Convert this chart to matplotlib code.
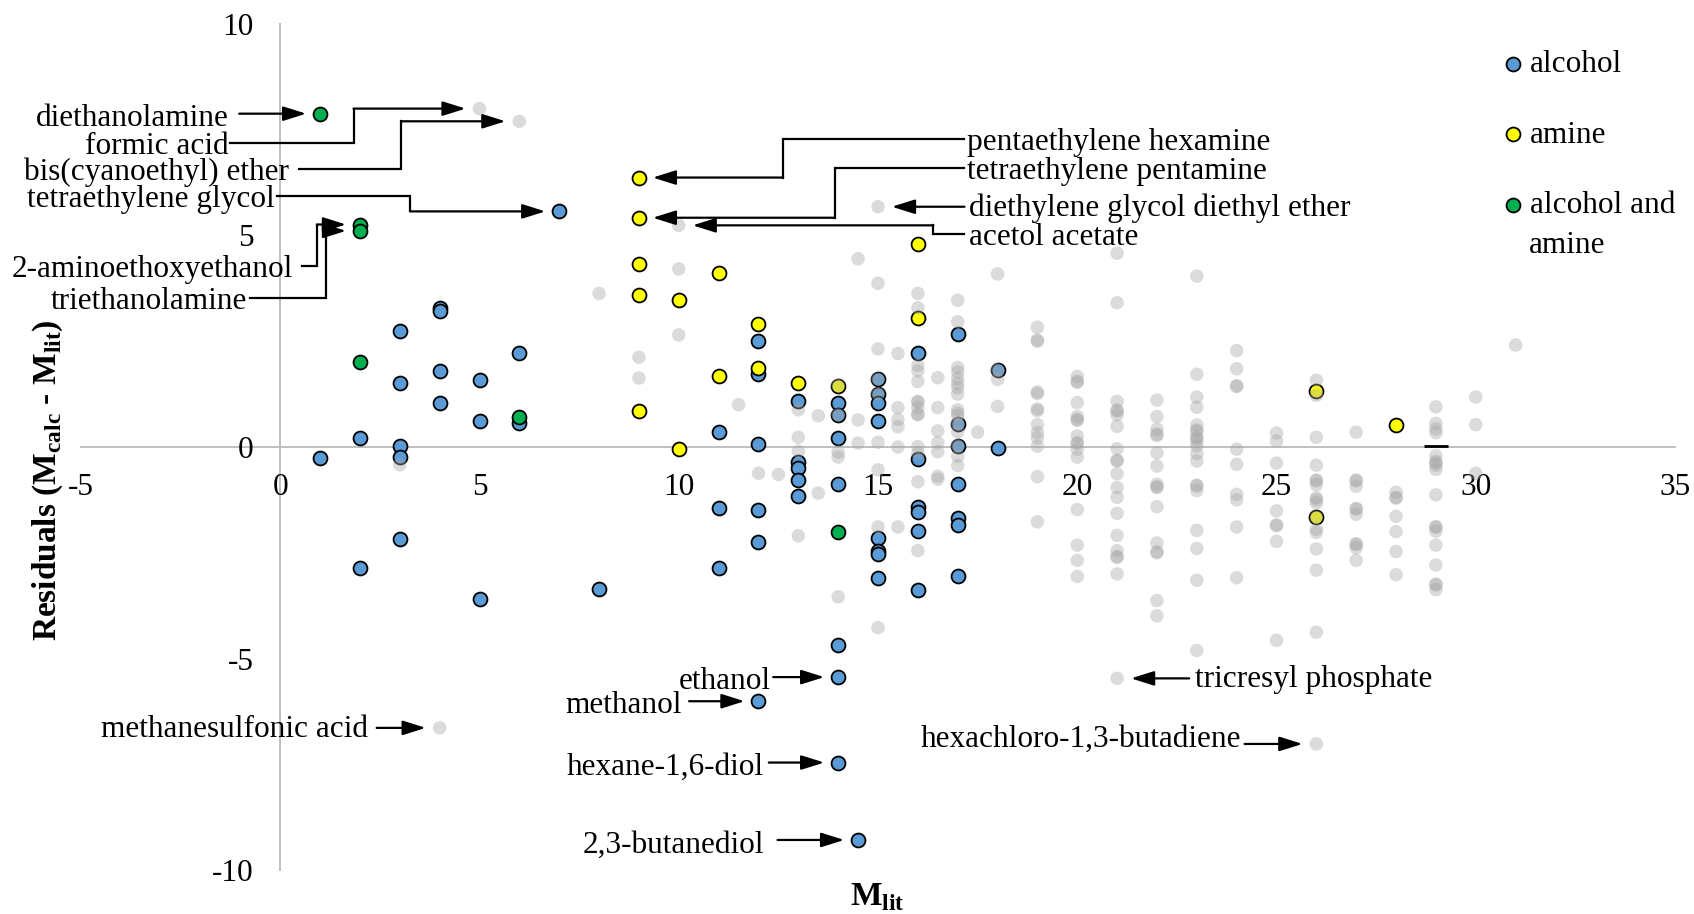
import matplotlib
matplotlib.use('Agg')
import matplotlib.pyplot as plt

plt.rcParams['font.family'] = ['Liberation Serif', 'DejaVu Serif']
plt.rcParams['mathtext.fontset'] = 'custom'
plt.rcParams['mathtext.rm'] = 'Liberation Serif'
plt.rcParams['mathtext.bf'] = 'Liberation Serif:bold'
plt.rcParams['axes.unicode_minus'] = False

# --- dados (M_lit, residuo) ---
alcohol_x = [1,
             2, 2,
             3, 3, 3, 3, 3,
             4, 4, 4, 4,
             5, 5, 5,
             6, 6,
             7,
             8,
             11, 11, 11,
             12, 12, 12, 12, 12, 12,
             13, 13, 13, 13, 13,
             14, 14, 14, 14, 14, 14, 14,
             14.5,
             15, 15, 15, 15, 15, 15, 15, 15,
             16, 16, 16, 16, 16, 16,
             17, 17, 17, 17, 17, 17, 17,
             18, 18]
alcohol_y = [-0.26,
             0.22, -2.87,
             2.75, 1.52, 0.03, -0.24, -2.17,
             3.28, 3.22, 1.80, 1.04,
             1.59, 0.62, -3.59,
             2.22, 0.56,
             5.57,
             -3.36,
             0.36, -1.44, -2.86,
             2.51, 1.72, 0.08, -1.49, -2.25, -6.01,
             1.09, -0.35, -0.50, -0.77, -1.15,
             1.04, 0.76, 0.22, -0.87, -4.67, -5.44, -7.46,
             -9.29,
             1.60, 1.26, 1.05, 0.61, -2.15, -2.47, -2.52, -3.10,
             2.22, -0.28, -1.41, -1.54, -1.98, -3.38,
             2.68, 0.55, 0.03, -0.87, -1.68, -1.85, -3.05,
             1.82, -0.02]

amine_x = [9, 9, 9, 9, 9, 10, 10, 11, 11, 12, 12, 13, 14, 16, 16, 26, 26, 28]
amine_y = [6.37, 5.42, 4.33, 3.59, 0.86, 3.48, -0.05, 4.12, 1.67, 2.90, 1.87,
           1.52, 1.45, 4.79, 3.04, 1.33, -1.66, 0.53]

alc_amine_x = [1, 2, 2, 2, 6, 14]
alc_amine_y = [7.88, 5.26, 5.11, 2.02, 0.71, -2.02]

other_x = [3, 4, 5, 6, 8,
           9, 9,
           10, 10, 10,
           11.5, 12, 12.5,
           13, 13, 13, 13,
           13.5, 13.5,
           14, 14, 14, 14, 14,
           14.5, 14.5, 14.5,
           15, 15, 15, 15, 15, 15, 15, 15, 15,
           15.5, 15.5, 15.5, 15.5, 15.5, 15.5,
           16, 16, 16, 16, 16, 16, 16, 16, 16, 16, 16, 16, 16, 16,
           16.5, 16.5, 16.5, 16.5, 16.5, 16.5, 16.5,
           17, 17, 17, 17, 17, 17, 17, 17, 17, 17, 17, 17, 17, 17, 17, 17,
           17.5,
           18, 18, 18, 18,
           19, 19, 19, 19, 19, 19, 19, 19, 19, 19, 19, 19, 19,
           20, 20, 20, 20, 20, 20, 20, 20, 20, 20, 20, 20, 20, 20, 20, 20,
           21, 21, 21, 21, 21, 21, 21, 21, 21, 21, 21, 21, 21, 21, 21, 21, 21, 21, 21, 21,
           22, 22, 22, 22, 22, 22, 22, 22, 22, 22, 22, 22, 22, 22, 22, 22,
           23, 23, 23, 23, 23, 23, 23, 23, 23, 23, 23, 23, 23, 23, 23, 23, 23, 23, 23, 23,
           24, 24, 24, 24, 24, 24, 24, 24, 24, 24,
           25, 25, 25, 25, 25, 25, 25, 25,
           26, 26, 26, 26, 26, 26, 26, 26, 26, 26, 26, 26, 26, 26, 26, 26, 26,
           27, 27, 27, 27, 27, 27, 27, 27, 27, 27, 27,
           28, 28, 28, 28, 28, 28, 28,
           29, 29, 29, 29, 29, 29, 29, 29, 29, 29, 29, 29, 29, 29, 29, 29, 29, 29,
           30, 30, 30,
           31]
other_y = [-0.42, -6.64, 8.00, 7.70, 3.63,
           2.12, 1.63,
           5.24, 4.21, 2.65,
           1.00, -0.62, -0.65,
           0.88, 0.23, -0.10, -2.10,
           0.74, -1.09,
           1.45, 0.76, -0.12, -0.24, -3.54,
           4.45, 0.64, 0.09,
           5.68, 3.87, 2.32, 1.60, 1.26, 0.11, -0.54, -1.89, -4.27,
           2.21, 0.93, 0.65, 0.48, 0.00, -1.89,
           3.63, 3.29, 1.93, 1.80, 1.55, 1.08, 1.06, 0.93, 0.78, 0.76, 0.01, -0.14, -0.82, -2.45,
           1.64, 0.93, 0.38, 0.10, -0.11, -0.69, -0.76,
           3.47, 2.96, 1.88, 1.77, 1.62, 1.50, 1.40, 1.25, 0.88, 0.80, 0.74, 0.55, 0.36, 0.03, -0.22, -0.44,
           0.35,
           4.09, 1.82, 1.60, 0.96,
           2.83, 2.53, 2.50, 1.30, 1.26, 0.90, 0.86, 0.53, 0.34, 0.22, 0.02, -0.70, -1.77,
           1.67, 1.55, 1.53, 1.05, 0.72, 0.65, 0.63, 0.26, 0.10, 0.08, -0.05, -0.24, -1.48, -2.32, -2.68, -3.06,
           4.58, 3.41, 1.08, 0.87, 0.85, 0.76, 0.49, -0.04, -0.31, -0.33, -0.63, -0.96, -1.19, -1.57,
           -2.09, -2.45, -2.59, -2.61, -3.00, -5.47,
           1.11, 0.72, 0.42, 0.30, 0.27, -0.14, -0.45, -0.88, -0.94, -0.96, -1.41, -2.27, -2.48, -2.50,
           -3.63, -3.99,
           4.04, 1.72, 1.18, 0.94, 0.52, 0.40, 0.37, 0.24, 0.20, 0.13, 0.03, -0.15, -0.33, -0.90, -0.92,
           -1.03, -1.97, -2.40, -3.15, -4.81,
           2.28, 1.85, 1.45, 1.43, -0.05, -0.41, -1.12, -1.25, -1.89, -3.09,
           0.33, 0.14, -0.38, -1.51, -1.84, -1.86, -2.23, -4.57,
           1.58, 1.22, 0.23, -0.43, -0.78, -0.80, -0.89, -1.20, -1.25, -1.32, -1.66, -1.95, -2.02,
           -2.41, -2.91, -4.38, -7.02,
           0.35, -0.78, -0.80, -0.93, -1.45, -1.47, -1.59, -2.29, -2.30, -2.38, -2.68,
           -1.07, -1.19, -1.21, -1.64, -2.00, -2.47, -3.02,
           0.95, 0.56, 0.43, 0.34, -0.21, -0.34, -0.38, -0.43, -0.53, -1.13, -1.88, -1.90, -1.99,
           -2.32, -2.79, -3.24, -3.26, -3.37,
           1.18, 0.53, -0.62,
           2.41]

dash_x = [29]
dash_y = [0.02]

# rotulos: (texto, x do texto, y do texto, inicio da linha, x do cotovelo, alvo)
labels_left = [
    ("diethanolamine", -1.30, 7.85, -1.03, None, (1, 7.88)),
    ("formic acid", -1.30, 7.19, -1.25, 1.84, (5, 8.00)),
    ("bis(cyanoethyl) ether", 0.22, 6.57, 0.46, 3.04, (6, 7.70)),
    ("tetraethylene glycol", -0.14, 5.93, -0.08, 3.26, (7, 5.57)),
    ("2-aminoethoxyethanol", 0.33, 4.27, 0.54, 0.92, (2, 5.26)),
    ("triethanolamine", -0.84, 3.53, -0.76, 1.14, (2, 5.11)),
    ("methanesulfonic acid", 2.20, -6.60, 2.42, None, (4, -6.64)),
    ("ethanol", 12.32, -5.47, 12.37, None, (14, -5.44)),
    ("methanol", 10.07, -6.04, 10.26, None, (12, -6.01)),
    ("hexane-1,6-diol", 12.13, -7.49, 12.26, None, (14, -7.46)),
    ("2,3-butanediol", 12.15, -9.34, 12.48, None, (14.5, -9.29)),
    ("hexachloro-1,3-butadiene", 24.12, -6.83, 24.20, None, (26, -7.02)),
]
labels_right = [
    ("pentaethylene hexamine", 17.23, 7.29, 17.17, 12.62, (9, 6.37)),
    ("tetraethylene pentamine", 17.23, 6.60, 17.17, 13.92, (9, 5.42)),
    ("diethylene glycol diethyl ether", 17.28, 5.73, 17.17, None, (15, 5.68)),
    ("acetol acetate", 17.28, 5.04, 17.17, 16.39, (10, 5.24)),
    ("tricresyl phosphate", 22.95, -5.42, 22.81, None, (21, -5.47)),
]

FS = 22.5
W, H = 1694, 914
fig = plt.figure(figsize=(W / 100, H / 100), dpi=100)
ax = fig.add_axes([81 / W, 1 - 870 / H, (1675 - 81) / W, (870 - 24) / H])

ax.scatter(alcohol_x, alcohol_y, s=100, c='#5B9BD5', edgecolors='black', linewidths=1.3,
           zorder=3, label='alcohol')
ax.scatter(amine_x, amine_y, s=100, c='#FFFF00', edgecolors='black', linewidths=1.3,
           zorder=3, label='amine')
ax.scatter(alc_amine_x, alc_amine_y, s=100, c='#00B050', edgecolors='black', linewidths=1.3,
           zorder=3, label='alcohol and')
ax.scatter(other_x, other_y, s=95, c='#a6a6a6', alpha=0.4, edgecolors='none', zorder=4)
ax.scatter(dash_x, dash_y, marker='_', s=300, c='black', linewidths=2, zorder=5)

ax.set_xlim(-5, 35)
ax.set_ylim(-10, 10)
ax.set_xticks(range(-5, 36, 5))
ax.set_yticks(range(-10, 11, 5))
ax.spines['left'].set_position('zero')
ax.spines['bottom'].set_position('zero')
ax.spines['right'].set_visible(False)
ax.spines['top'].set_visible(False)
for s in ['left', 'bottom']:
    ax.spines[s].set_color('#bfbfbf')
    ax.spines[s].set_linewidth(1.4)
    ax.spines[s].set_zorder(1)
ax.tick_params(axis='both', length=0, labelsize=FS, colors='black')
ax.tick_params(axis='y', pad=19)
ax.tick_params(axis='x', pad=19)

arrow = dict(arrowstyle='-|>,head_length=0.7,head_width=0.22', color='black', lw=1.6,
             shrinkA=0, shrinkB=10, mutation_scale=20)


def draw_label(txt, tx, ty, start, via, target, ha):
    px, py = target
    ax.text(tx, ty, txt, ha=ha, va='center_baseline', fontsize=FS, zorder=6)
    if via is None:
        ax.annotate('', xy=(px, py), xytext=(start, py), arrowprops=arrow, zorder=6)
    else:
        ax.plot([start, via, via], [ty, ty, py], color='black', lw=1.6, zorder=6,
                solid_joinstyle='miter')
        ax.annotate('', xy=(px, py), xytext=(via, py), arrowprops=arrow, zorder=6)


for lab in labels_left:
    draw_label(*lab, ha='right')
for lab in labels_right:
    draw_label(*lab, ha='left')

leg = ax.legend(loc='upper left', bbox_to_anchor=(1500 / W, 1 - 50 / H),
                bbox_transform=fig.transFigure, frameon=False, fontsize=FS,
                borderpad=0, handletextpad=0.15, handlelength=0.8,
                labelspacing=1.33, borderaxespad=0)
fig.text(1529 / W, 1 - 242 / H, 'amine', fontsize=FS, ha='left', va='center_baseline')

fig.text(877 / W, 1 - 897 / H, r'M$_{\mathbf{lit}}$', fontsize=24, fontweight='bold',
         ha='center', va='center')
fig.text(48 / W, 1 - 480 / H, r'Residuals (M$_{\mathbf{calc}}$ - M$_{\mathbf{lit}}$)',
         fontsize=24, fontweight='bold', rotation=90, ha='center', va='center')

fig.savefig('out.png', dpi=100)
